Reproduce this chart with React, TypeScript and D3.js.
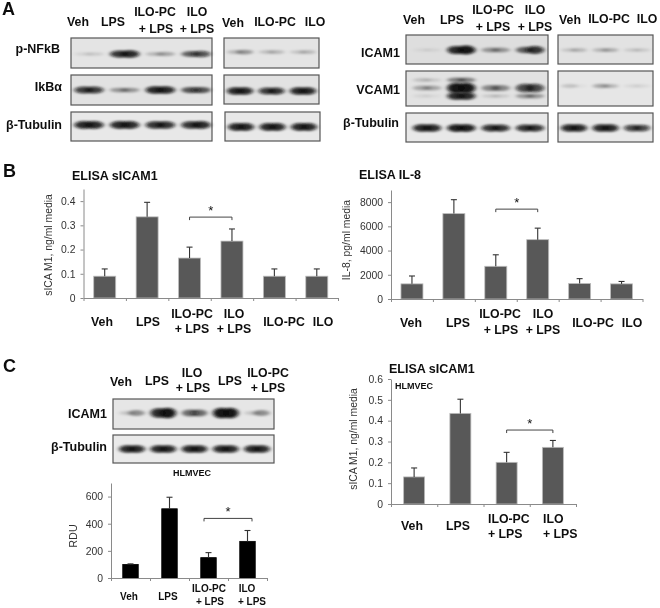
import React, { useEffect, useRef } from "react";
import * as d3 from "d3";

// bar chart values
const catsB = ["Veh", "LPS", "ILO-PC + LPS", "ILO + LPS", "ILO-PC", "ILO"];
const sicamMeans = [0.09, 0.335, 0.165, 0.235, 0.09, 0.09];
const sicamTops = [0.12, 0.395, 0.21, 0.285, 0.12, 0.12];
const il8Means = [1250, 7050, 2700, 4900, 1280, 1250];
const il8Tops = [1900, 8200, 3650, 5850, 1680, 1450];
const catsC = ["Veh", "LPS", "ILO-PC + LPS", "ILO + LPS"];
const rduMeans = [100, 510, 150, 270];
const rduTops = [104, 595, 187, 350];
const hlmvecMeans = [0.13, 0.435, 0.2, 0.272];
const hlmvecTops = [0.173, 0.503, 0.248, 0.305];

const sicamTicks = [0, 0.1, 0.2, 0.3, 0.4];
const il8Ticks = [0, 2000, 4000, 6000, 8000];
const rduTicks = [0, 200, 400, 600];
const hlmvecTicks = [0, 0.1, 0.2, 0.3, 0.4, 0.5, 0.6];

// blot band strength per lane, left and right half of each band (0-1)
const pNfkbA = [[0.08, 0.12], [0.85, 0.9], [0.2, 0.28], [0.6, 0.7]];
const pNfkbB = [[0.2, 0.35], [0.16, 0.2], [0.15, 0.2]];
const ikbaA = [[0.8, 0.8], [0.35, 0.35], [0.9, 0.9], [0.65, 0.65]];
const ikbaB = [[0.9, 0.9], [0.8, 0.85], [0.9, 0.9]];
const tubA = [[0.9, 0.9], [0.9, 0.9], [0.85, 0.85], [0.85, 0.9]];
const tubB = [[0.9, 0.9], [0.9, 0.9], [0.9, 0.9]];
const icamA = [[0.05, 0.06], [0.9, 1], [0.35, 0.35], [0.6, 0.85]];
const icamB = [[0.14, 0.2], [0.2, 0.24], [0.12, 0.12]];
const vcamMainA = [[0.28, 0.28], [1, 1], [0.42, 0.42], [0.75, 0.75]];
const vcamLowA = [[0.07, 0.05], [0.9, 0.9], [0.12, 0.12], [0.35, 0.35]];
const vcamUpA = [[0.16, 0.12], [0.45, 0.45], [0, 0], [0, 0]];
const vcamMainB = [[0.16, 0.04], [0.28, 0.22], [0.07, 0.07]];
const tubC = [[0.9, 0.9], [0.95, 0.95], [0.85, 0.85], [0.85, 0.85]];
const tubD = [[0.9, 0.9], [0.9, 0.9], [0.75, 0.75]];
const icamHl = [[0.15, 0.4], [0.9, 1], [0.55, 0.55], [1, 1], [0.15, 0.4]];
const tubHl = [[0.9, 0.9], [0.9, 0.9], [0.9, 0.9], [0.9, 0.9], [0.9, 0.9]];

const FONT = "'Liberation Sans', Arial, sans-serif";

type Sel = d3.Selection<SVGGElement, unknown, null, undefined>;

function label(g: Sel, str: string, x: number, y: number, size = 12.3, anchor = "middle", bold = true) {
  return g
    .append("text")
    .attr("x", x)
    .attr("y", y)
    .attr("text-anchor", anchor)
    .attr("font-size", size)
    .attr("font-weight", bold ? "bold" : "normal")
    .attr("fill", "#111")
    .text(str);
}

function blot(
  g: Sel,
  box: { x: number; y: number; w: number; h: number; l: number; r: number; fill?: string },
  bands: { lanes: number[][]; cy: number; thick?: number }[]
) {
  const { x, y, w, h, l, r, fill = "#dedede" } = box;
  g.append("rect")
    .attr("x", x)
    .attr("y", y)
    .attr("width", w)
    .attr("height", h)
    .attr("fill", fill)
    .attr("stroke", "#555")
    .attr("stroke-width", 1.2);

  const n = bands[0].lanes.length;
  const lane = d3.scalePoint<number>().domain(d3.range(n)).range([x + l, x + w - r]);
  const step = lane.step();
  const alpha = d3.scaleLinear().domain([0, 1]).range([0.0, 0.95]);

  bands.forEach(({ lanes, cy, thick = 1 }) => {
    const ry = d3.scaleLinear().domain([0, 1]).range([1.5, 4 * thick]);
    const lobes = lanes.flatMap((d, i) => d.map((v, k) => ({ v, i, k })));
    g.append("g")
      .attr("filter", "url(#bandBlur)")
      .selectAll("ellipse")
      .data(lobes)
      .join("ellipse")
      .attr("cx", (d) => (lane(d.i) as number) + (d.k === 0 ? -0.14 : 0.14) * step)
      .attr("cy", y + cy)
      .attr("rx", step * 0.27)
      .attr("ry", (d) => ry(d.v))
      .attr("fill", "#0a0a0a")
      .attr("opacity", (d) => alpha(d.v));
  });
}

function barChart(
  g: Sel,
  o: {
    x0: number;
    x1: number;
    y0: number;
    yTop: number;
    max: number;
    means: number[];
    tops: number[];
    cats: string[];
    ticks: number[];
    fmt: (d: number) => string;
    barW: number;
    color: string;
    edge: string;
    bracket: number;
    pad: number;
    fontSize: number;
  }
) {
  const x = d3.scaleBand<string>().domain(o.cats).range([o.x0, o.x1]);
  const y = d3.scaleLinear().domain([0, o.max]).range([o.y0, o.yTop]);
  const edges = d3.scaleLinear().domain([0, o.cats.length]).range([o.x0, o.x1]);

  g.append("g")
    .selectAll("rect")
    .data(o.means)
    .join("rect")
    .attr("x", (_, i) => (x(o.cats[i]) as number) + (x.bandwidth() - o.barW) / 2)
    .attr("y", (d) => y(d))
    .attr("width", o.barW)
    .attr("height", (d) => o.y0 - y(d))
    .attr("fill", o.color)
    .attr("stroke", o.edge)
    .attr("stroke-width", 0.8);

  const cx = (i: number) => (x(o.cats[i]) as number) + x.bandwidth() / 2;
  const err = g.append("g").attr("stroke", "#333").attr("stroke-width", 1.1);
  o.tops.forEach((t, i) => {
    err.append("line").attr("x1", cx(i)).attr("x2", cx(i)).attr("y1", y(o.means[i])).attr("y2", y(t));
    err.append("line").attr("x1", cx(i) - 3).attr("x2", cx(i) + 3).attr("y1", y(t)).attr("y2", y(t));
  });

  const axisY = g
    .append("g")
    .attr("transform", `translate(${o.x0},0)`)
    .call(d3.axisLeft(y).tickValues(o.ticks).tickFormat(o.fmt as any).tickSize(3).tickPadding(5).tickSizeOuter(0));
  const axisX = g
    .append("g")
    .attr("transform", `translate(0,${o.y0})`)
    .call(d3.axisBottom(edges).tickValues(d3.range(o.cats.length + 1)).tickFormat(() => "").tickSize(3).tickSizeOuter(0));
  [axisY, axisX].forEach((a) => {
    a.selectAll("path,line").attr("stroke", "#8a8a8a").attr("stroke-width", 1);
  });
  axisY.selectAll("text").attr("font-size", o.fontSize).attr("font-family", FONT).attr("fill", "#333");

  // significance bracket between the two treated groups
  const by = y(o.bracket);
  const bx0 = cx(2) - o.pad;
  const bx1 = cx(3) + o.pad;
  g.append("path")
    .attr("d", `M${bx0},${by + 3}V${by}H${bx1}V${by + 3}`)
    .attr("fill", "none")
    .attr("stroke", "#444")
    .attr("stroke-width", 1);
  label(g, "*", (bx0 + bx1) / 2, by - 2, 13, "middle", false);
}

function yTitle(g: Sel, str: string, x: number, y: number, size = 10.4) {
  g.append("text")
    .attr("transform", `translate(${x},${y}) rotate(-90)`)
    .attr("text-anchor", "middle")
    .attr("font-size", size)
    .attr("fill", "#333")
    .text(str);
}

const App: React.FC = () => {
  const svgRef = useRef<SVGSVGElement | null>(null);

  useEffect(() => {
    const svg = d3.select(svgRef.current);
    svg.selectAll("*").remove();

    const defs = svg.append("defs");
    defs.append("filter").attr("id", "bandBlur").attr("x", "-20%").attr("y", "-100%").attr("width", "140%").attr("height", "300%")
      .append("feGaussianBlur").attr("stdDeviation", "2 1.1");
    defs.append("filter").attr("id", "soft").append("feGaussianBlur").attr("stdDeviation", 0.3);

    const g = svg.append("g").attr("font-family", FONT).attr("filter", "url(#soft)") as unknown as Sel;

    // panel letters
    label(g, "A", 2, 15, 18, "start");
    label(g, "B", 3, 177, 18, "start");
    label(g, "C", 3, 372, 18, "start");

    // panel A, left blots
    label(g, "Veh", 78, 26);
    label(g, "LPS", 113, 26);
    label(g, "ILO-PC", 155, 16);
    label(g, "+ LPS", 156, 33);
    label(g, "ILO", 197, 16);
    label(g, "+ LPS", 197, 33);
    label(g, "Veh", 233, 27);
    label(g, "ILO-PC", 275, 26);
    label(g, "ILO", 315, 26);
    label(g, "p-NFkB", 60, 53, 12.5, "end");
    label(g, "IkB\u03b1", 62, 91, 12.5, "end");
    label(g, "\u03b2-Tubulin", 62, 129, 12.5, "end");

    const laneA = { l: 18, r: 16 };
    const laneB = { l: 16, r: 16 };
    blot(g, { x: 71, y: 38, w: 141, h: 30, ...laneA, fill: "#e4e4e4" }, [{ lanes: pNfkbA, cy: 16 }]);
    blot(g, { x: 224, y: 38, w: 95, h: 30, ...laneB, fill: "#e4e4e4" }, [{ lanes: pNfkbB, cy: 14 }]);
    blot(g, { x: 71, y: 75, w: 141, h: 30, ...laneA, fill: "#e2e2e2" }, [{ lanes: ikbaA, cy: 15 }]);
    blot(g, { x: 224, y: 75, w: 95, h: 29, ...laneB, fill: "#e2e2e2" }, [{ lanes: ikbaB, cy: 16 }]);
    blot(g, { x: 71, y: 112, w: 141, h: 29, ...laneA, fill: "#e8e8e8" }, [{ lanes: tubA, cy: 13, thick: 1.05 }]);
    blot(g, { x: 225, y: 112, w: 95, h: 29, ...laneB, fill: "#e8e8e8" }, [{ lanes: tubB, cy: 15, thick: 1.05 }]);

    // panel A, right blots
    label(g, "Veh", 414, 24);
    label(g, "LPS", 452, 24);
    label(g, "ILO-PC", 493, 14);
    label(g, "+ LPS", 493, 31);
    label(g, "ILO", 535, 14);
    label(g, "+ LPS", 535, 31);
    label(g, "Veh", 570, 24);
    label(g, "ILO-PC", 609, 23);
    label(g, "ILO", 647, 23);
    label(g, "ICAM1", 400, 57, 12.5, "end");
    label(g, "VCAM1", 400, 94, 12.5, "end");
    label(g, "\u03b2-Tubulin", 399, 127, 12.5, "end");

    const laneR = { l: 21, r: 18 };
    blot(g, { x: 406, y: 35, w: 142, h: 29, ...laneR, fill: "#dedede" }, [{ lanes: icamA, cy: 15, thick: 1.1 }]);
    blot(g, { x: 558, y: 35, w: 95, h: 29, ...laneB, fill: "#e2e2e2" }, [{ lanes: icamB, cy: 15 }]);
    blot(g, { x: 406, y: 71, w: 142, h: 35, ...laneR, fill: "#e2e2e2" }, [
      { lanes: vcamUpA, cy: 9 },
      { lanes: vcamLowA, cy: 25 },
      { lanes: vcamMainA, cy: 17, thick: 1.3 },
    ]);
    blot(g, { x: 558, y: 71, w: 95, h: 35, ...laneB, fill: "#e6e6e6" }, [{ lanes: vcamMainB, cy: 15 }]);
    blot(g, { x: 406, y: 113, w: 142, h: 29, ...laneR, fill: "#e8e8e8" }, [{ lanes: tubC, cy: 15 }]);
    blot(g, { x: 558, y: 113, w: 95, h: 29, ...laneB, fill: "#e8e8e8" }, [{ lanes: tubD, cy: 15 }]);

    // panel B, sICAM1
    label(g, "ELISA sICAM1", 72, 180, 12.5, "start");
    barChart(g, {
      x0: 83.5, x1: 338, y0: 298, yTop: 189, max: 0.45,
      means: sicamMeans, tops: sicamTops, cats: catsB, ticks: sicamTicks,
      fmt: (d) => (d === 0 ? "0" : d.toFixed(1)),
      barW: 22, color: "#595959", edge: "#bdbdbd", bracket: 0.334, pad: 0, fontSize: 10.4,
    });
    yTitle(g, "sICA M1, ng/ml media", 52, 245);
    label(g, "Veh", 102, 326);
    label(g, "LPS", 148, 326);
    label(g, "ILO-PC", 192, 318);
    label(g, "+ LPS", 192, 333);
    label(g, "ILO", 234, 318);
    label(g, "+ LPS", 234, 333);
    label(g, "ILO-PC", 284, 326);
    label(g, "ILO", 323, 326);

    // panel B, IL-8
    label(g, "ELISA IL-8", 359, 179, 12.5, "start");
    barChart(g, {
      x0: 391, x1: 642.5, y0: 299, yTop: 190, max: 9000,
      means: il8Means, tops: il8Tops, cats: catsB, ticks: il8Ticks,
      fmt: (d) => String(d),
      barW: 22, color: "#595959", edge: "#bdbdbd", bracket: 7420, pad: 0, fontSize: 10.4,
    });
    yTitle(g, "IL-8, pg/ml media", 350, 240);
    label(g, "Veh", 411, 327);
    label(g, "LPS", 458, 327);
    label(g, "ILO-PC", 500, 318);
    label(g, "+ LPS", 501, 334);
    label(g, "ILO", 543, 318);
    label(g, "+ LPS", 543, 334);
    label(g, "ILO-PC", 593, 327);
    label(g, "ILO", 632, 327);

    // panel C, blots
    label(g, "Veh", 121, 386);
    label(g, "LPS", 157, 385);
    label(g, "ILO", 192, 377);
    label(g, "+ LPS", 193, 392);
    label(g, "LPS", 230, 385);
    label(g, "ILO-PC", 268, 377);
    label(g, "+ LPS", 268, 392);
    label(g, "ICAM1", 107, 418, 12.5, "end");
    label(g, "\u03b2-Tubulin", 107, 451, 12.5, "end");
    const laneC = { l: 19, r: 17 };
    blot(g, { x: 113, y: 399, w: 161, h: 30, ...laneC, fill: "#e6e6e6" }, [{ lanes: icamHl, cy: 14, thick: 1.3 }]);
    blot(g, { x: 113, y: 435, w: 161, h: 28, ...laneC, fill: "#eaeaea" }, [{ lanes: tubHl, cy: 14 }]);
    label(g, "HLMVEC", 192, 476, 9);

    // panel C, RDU
    barChart(g, {
      x0: 111, x1: 267, y0: 578, yTop: 483, max: 700,
      means: rduMeans, tops: rduTops, cats: catsC, ticks: rduTicks,
      fmt: (d) => String(d),
      barW: 15.5, color: "#000", edge: "#000", bracket: 439, pad: 4.5, fontSize: 10.4,
    });
    yTitle(g, "RDU", 77, 536, 10.8);
    label(g, "Veh", 129, 600, 10);
    label(g, "LPS", 168, 600, 10);
    label(g, "ILO-PC", 209, 592, 10);
    label(g, "+ LPS", 210, 605, 10);
    label(g, "ILO", 247, 592, 10);
    label(g, "+ LPS", 252, 605, 10);

    // panel C, HLMVEC sICAM1
    label(g, "ELISA sICAM1", 389, 373, 12.5, "start");
    label(g, "HLMVEC", 395, 389, 9, "start");
    barChart(g, {
      x0: 391, x1: 576, y0: 504, yTop: 379, max: 0.6,
      means: hlmvecMeans, tops: hlmvecTops, cats: catsC, ticks: hlmvecTicks,
      fmt: (d) => (d === 0 ? "0" : d.toFixed(1)),
      barW: 21, color: "#595959", edge: "#bdbdbd", bracket: 0.355, pad: 0, fontSize: 10.4,
    });
    yTitle(g, "sICA M1, ng/ml media", 357, 439);
    label(g, "Veh", 412, 530);
    label(g, "LPS", 458, 530);
    label(g, "ILO-PC", 488, 523, 12.3, "start");
    label(g, "+ LPS", 488, 538, 12.3, "start");
    label(g, "ILO", 543, 523, 12.3, "start");
    label(g, "+ LPS", 543, 538, 12.3, "start");
  }, []);

  return (
    <svg
      ref={svgRef}
      width={660}
      height={608}
      style={{ position: "absolute", left: 0, top: 0, background: "#fff" }}
    />
  );
};

export default App;
